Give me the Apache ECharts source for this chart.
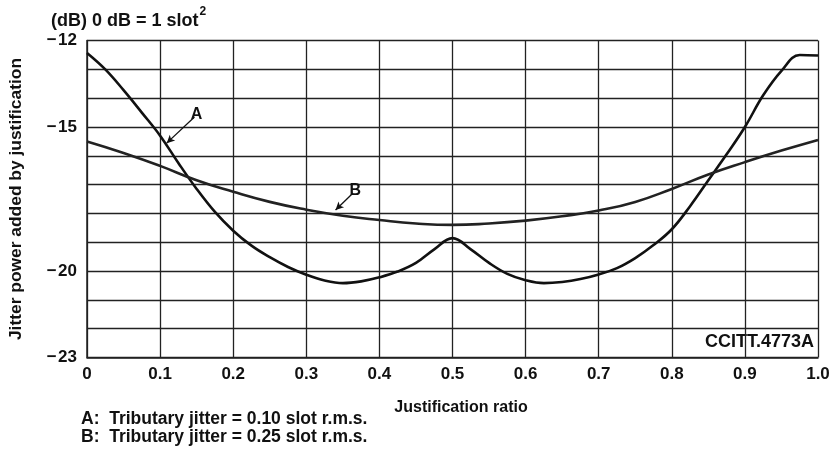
<!DOCTYPE html>
<html>
<head>
<meta charset="utf-8">
<script src="https://cdn.jsdelivr.net/npm/echarts@6/dist/echarts.min.js"></script>
<style>
html,body{margin:0;padding:0;background:#fff;}
#c{width:834px;height:451px;}
</style>
</head>
<body>
<div id="c"></div>
<script>
// Curve A: tributary jitter 0.10 slot r.m.s.
var aX = [0, 0.025, 0.05, 0.075, 0.1, 0.125, 0.15, 0.175, 0.2, 0.225, 0.25, 0.275, 0.3, 0.325, 0.35, 0.375, 0.4, 0.425, 0.45, 0.475, 0.5, 0.525, 0.55, 0.575, 0.6, 0.625, 0.65, 0.675, 0.7, 0.725, 0.75, 0.775, 0.8, 0.825, 0.85, 0.875, 0.9, 0.925, 0.95, 0.975, 1.0];
var aY = [-12.43, -13.0, -13.72, -14.5, -15.3, -16.25, -17.15, -17.95, -18.6, -19.12, -19.52, -19.86, -20.13, -20.33, -20.42, -20.36, -20.22, -20.02, -19.72, -19.25, -18.86, -19.25, -19.72, -20.1, -20.32, -20.42, -20.38, -20.28, -20.12, -19.9, -19.55, -19.1, -18.55, -17.75, -16.85, -15.95, -15.0, -13.9, -13.05, -12.5, -12.52];
// Curve B: tributary jitter 0.25 slot r.m.s.
var bX = [0, 0.05, 0.1, 0.15, 0.2, 0.25, 0.3, 0.35, 0.4, 0.45, 0.5, 0.55, 0.6, 0.65, 0.7, 0.75, 0.8, 0.85, 0.9, 0.95, 1.0];
var bY = [-15.5, -15.9, -16.35, -16.85, -17.25, -17.6, -17.87, -18.08, -18.23, -18.35, -18.4, -18.35, -18.25, -18.1, -17.9, -17.6, -17.15, -16.65, -16.22, -15.82, -15.45];
// Axis ticks
var yMin = -23, yMax = -12, yShown = [-12, -15, -20, -23];
var xMin = 0, xMax = 1;
// Curve label leader lines (tip on curve, label end)
var labelA = {text: 'A', tip: [0.109, -15.56], end: [0.147, -14.65]};
var labelB = {text: 'B', tip: [0.340, -17.88], end: [0.364, -17.29]};
var legendLines = ['A:  Tributary jitter = 0.10 slot r.m.s.', 'B:  Tributary jitter = 0.25 slot r.m.s.'];

function pairs(xs, ys){ return xs.map(function(x,i){ return [x, ys[i]]; }); }
var FONT = 'Liberation Sans';
function leader(l){
  return {
    silent: true,
    symbol: ['arrow', 'none'],
    symbolSize: [6, 8],
    lineStyle: {color: '#111', width: 1.3, type: 'solid'},
    label: {show: true, position: 'end', formatter: l.text, color: '#111', fontSize: 16, fontWeight: 'bold', fontFamily: FONT, distance: 3},
    data: [[{coord: l.tip}, {coord: l.end}]]
  };
}

var chart = echarts.init(document.getElementById('c'), null, {renderer: 'canvas'});
chart.setOption({
  animation: false,
  backgroundColor: '#fff',
  grid: {left: 82, right: 16, top: 40.6, bottom: 93.6, containLabel: false},
  title: {
    left: 46, top: 1,
    text: '{a|(dB) 0 dB = 1 slot}{s|2}',
    textStyle: {
      rich: {
        a: {fontSize: 18, fontWeight: 'bold', color: '#111', fontFamily: FONT, verticalAlign: 'bottom', lineHeight: 24},
        s: {fontSize: 12, fontWeight: 'bold', color: '#111', fontFamily: FONT, verticalAlign: 'top', lineHeight: 24, padding: [0,0,10,1]}
      }
    }
  },
  xAxis: {
    type: 'value', min: xMin, max: xMax, interval: 0.1,
    name: 'Justification ratio', nameLocation: 'middle', nameGap: 42,
    nameTextStyle: {fontSize: 16, fontWeight: 'bold', color: '#111', fontFamily: FONT, padding: [0, 0, 0, 17]},
    axisLine: {show: true, lineStyle: {color: '#222', width: 1.5}},
    axisTick: {show: false},
    axisLabel: {
      margin: 8, fontSize: 17, fontWeight: 'bold', color: '#111', fontFamily: FONT,
      formatter: function(v){ var r = Math.round(v*10)/10; if (r === 0) return '0'; return r.toFixed(1); }
    },
    splitLine: {show: true, lineStyle: {color: '#222', width: 1.3}}
  },
  yAxis: {
    type: 'value', min: yMin, max: yMax, interval: 1,
    name: 'Jitter power added by justification', nameLocation: 'middle', nameGap: 62, nameRotate: 90,
    nameTextStyle: {fontSize: 17.4, fontWeight: 'bold', color: '#111', fontFamily: FONT},
    axisLine: {show: true, lineStyle: {color: '#222', width: 1.5}},
    axisTick: {show: false},
    axisLabel: {
      margin: 10, fontSize: 17, fontWeight: 'bold', color: '#111', fontFamily: FONT,
      formatter: function(v){ var r = Math.round(v); return yShown.indexOf(r) >= 0 ? '\u2212\u200A' + Math.abs(r) : ''; }
    },
    splitLine: {show: true, lineStyle: {color: '#222', width: 1.3}}
  },
  graphic: [
    {type: 'text', left: 81, top: 410, style: {text: legendLines[0], fontSize: 17.5, fontWeight: 'bold', fill: '#111', fontFamily: FONT}},
    {type: 'text', left: 81, top: 428, style: {text: legendLines[1], fontSize: 17.5, fontWeight: 'bold', fill: '#111', fontFamily: FONT}},
    {type: 'text', right: 20, top: 333, style: {text: 'CCITT.4773A', fontSize: 18, fontWeight: 'bold', fill: '#111', fontFamily: FONT}}
  ],
  series: [
    {
      name: 'A', type: 'line', data: pairs(aX, aY), smooth: 0.4, showSymbol: false,
      lineStyle: {color: '#111', width: 2.6}, z: 3,
      markLine: leader(labelA)
    },
    {
      name: 'B', type: 'line', data: pairs(bX, bY), smooth: 0.5, showSymbol: false,
      lineStyle: {color: '#222', width: 2.6}, z: 3,
      markLine: leader(labelB)
    }
  ]
});
</script>
</body>
</html>
